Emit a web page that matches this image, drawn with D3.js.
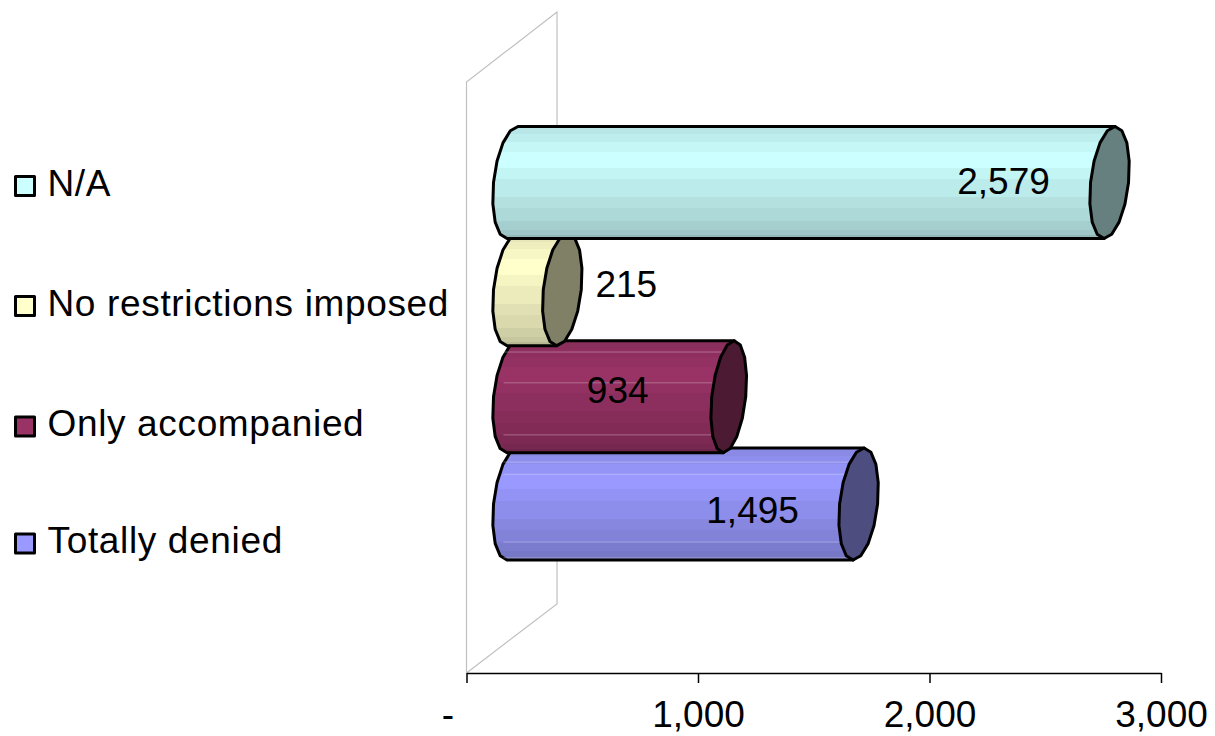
<!DOCTYPE html>
<html>
<head>
<meta charset="utf-8">
<title>Chart</title>
<script src="https://cdn.jsdelivr.net/npm/d3@7"></script>
<style>
html, body { margin: 0; padding: 0; background: #fff; }
svg { display: block; }
text { font-family: "Liberation Sans", Arial, sans-serif; fill: #000; }
</style>
</head>
<body>
<div id="chart"></div>
<script>
// data, bottom-most bar first (that is also the paint order)
var categories = ["Totally denied", "Only accompanied", "No restrictions imposed", "N/A"];
var values = [1495, 934, 215, 2579];
var colors = ["#9999ff", "#993366", "#ffffcc", "#ccffff"];
var capColors = ["#4d4d80", "#4d1a33", "#808066", "#668080"];
var xTicks = [0, 1000, 2000, 3000];
var tickLabels = ["-", "1,000", "2,000", "3,000"];
// brightness of the stripes on a bar, top to bottom, and where each one ends
var stripes = [0.9, 0.93, 0.97, 1, 0.96, 0.92, 0.88, 0.85, 0.81, 0.78, 0.72];
var stripeEnds = [0.07, 0.14, 0.23, 0.37, 0.47, 0.63, 0.73, 0.84, 0.92, 0.97, 1];
// thin light seams that show on the two dark bars
var seams = [[0.126, 0.234, 0.84, 0.98], [0.1, 0.375, 0.84], [], []];

var w = 1215, h = 736;
var depth = 47;      // how far the bars stand off the back wall
var barH = 112;
var capRx = [19, 17, 19, 19];
var shear = 5.5;
var facets = 16;

var svg = d3.select("#chart").append("svg").attr("width", w).attr("height", h);
var defs = svg.append("defs");

var x = d3.scaleLinear().domain([0, 3000]).range([466.5, 1161]);
var y = d3.scalePoint().domain(categories).range([504, 182.5]);

// back wall
var wall = svg.append("g").attr("fill", "none").attr("stroke", "#c0c0c0").attr("stroke-width", 1.2);
wall.append("path").attr("d", d3.line()([[x(0), 673], [x(0), 82], [557, 12], [557, 604], [x(0), 673]]));

// stepped gradients
categories.forEach(function(c, i) {
	var grad = defs.append("linearGradient").attr("id", "bar" + i)
		.attr("x1", 0).attr("x2", 0).attr("y1", 0).attr("y2", 1);
	stripes.forEach(function(s, j) {
		var col = d3.rgb(colors[i]);
		var fill = d3.rgb(col.r * s, col.g * s, col.b * s).formatHex();
		grad.append("stop").attr("offset", j ? stripeEnds[j - 1] : 0).attr("stop-color", fill);
		grad.append("stop").attr("offset", stripeEnds[j]).attr("stop-color", fill);
	});
});

// outline of a bar end, as the faceted ellipse it is in the picture
function capPoints(cx, cy, rx) {
	return d3.range(0, facets).map(function(k) {
		var t = k / facets * 2 * Math.PI;
		return [cx - 1 + rx * Math.cos(t) - shear * Math.sin(t), cy + (barH / 2) * Math.sin(t)];
	});
}

var bars = svg.append("g").attr("stroke", "#000").attr("stroke-width", 3).attr("stroke-linejoin", "round");
categories.forEach(function(c, i) {
	var cy = y(c);
	var x0 = x(0) + depth;
	var x1 = x(values[i]) + depth;
	var left = capPoints(x0, cy, 19);
	var right = capPoints(x1, cy, capRx[i]);
	// left half of the near end runs from the bottom vertex round to the top vertex
	var body = left.slice(facets / 4, facets * 3 / 4 + 1).concat([right[facets * 3 / 4], right[facets / 4]]);
	bars.append("path").attr("d", d3.line()(body) + "Z").attr("fill", "url(#bar" + i + ")");
	seams[i].forEach(function(f) {
		var sy = cy - barH / 2 + f * barH;
		bars.append("line")
			.attr("x1", x0 - 10).attr("x2", x1)
			.attr("y1", sy).attr("y2", sy)
			.attr("stroke", "#fff").attr("stroke-opacity", 0.3).attr("stroke-width", 1);
	});
	bars.append("path").attr("d", d3.line()(right) + "Z").attr("fill", capColors[i]);
});

// value labels
var labelDx = [-60, -65, 110, -60];
var labelY = [523, 403, 297, 194];
categories.forEach(function(c, i) {
	svg.append("text")
		.attr("x", x(values[i]) + labelDx[i])
		.attr("y", labelY[i])
		.attr("text-anchor", "middle")
		.attr("font-size", 37)
		.text(d3.format(",")(values[i]));
});

// x axis
var axis = d3.axisBottom(x).tickValues(xTicks).tickSize(10).tickSizeOuter(0)
	.tickFormat(function(d, i) { return tickLabels[i]; });
var gx = svg.append("g").attr("transform", "translate(0,673)").call(axis);
gx.select(".domain").attr("stroke", "#000").attr("stroke-width", 1.5);
gx.selectAll(".tick line").attr("stroke", "#000").attr("stroke-width", 1.5);
gx.selectAll(".tick text")
	.attr("font-size", 37)
	.attr("font-family", "Liberation Sans, Arial, sans-serif")
	.attr("fill", "#000")
	.attr("y", 54)
	.attr("dy", 0)
	.attr("dx", function(d) { return d === 0 ? -19 : 0; });

// legend
var legendCy = [543.5, 426.5, 306, 186];
var legend = svg.append("g");
categories.forEach(function(c, i) {
	legend.append("rect")
		.attr("x", 15.5).attr("y", legendCy[i] - 9.5).attr("width", 19).attr("height", 19)
		.attr("fill", colors[i]).attr("stroke", "#000").attr("stroke-width", 3)
		.attr("stroke-linejoin", "round");
	legend.append("text")
		.attr("x", 47.5).attr("y", legendCy[i] + 9.5)
		.attr("font-size", 37)
		.attr("letter-spacing", 0.65)
		.text(c);
});
</script>
</body>
</html>
